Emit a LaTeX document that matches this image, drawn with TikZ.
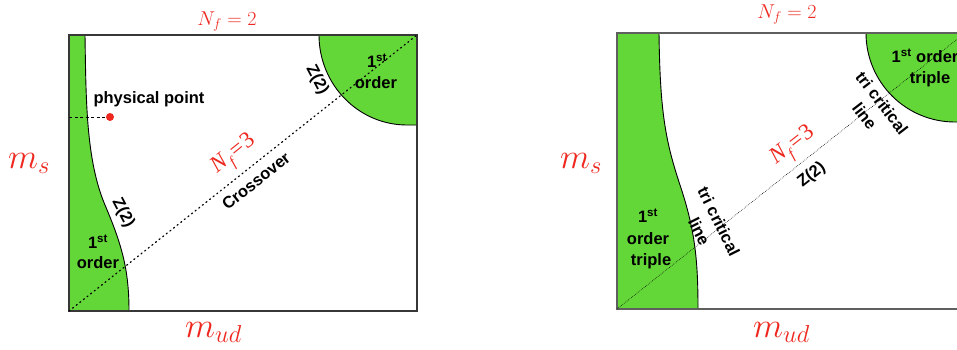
\documentclass[tikz,border=0pt]{standalone}
\usepackage{fix-cm}
\usepackage{fontspec}
\setmainfont{Liberation Sans}
\newfontfamily\timesfont{Liberation Serif}
\definecolor{grn}{RGB}{99,214,56}
\definecolor{rd}{RGB}{238,40,30}
\definecolor{framec}{RGB}{55,55,55}
\tikzset{
  region/.style={fill=grn},
  boundary/.style={draw=black, line width=0.9pt},
  frame/.style={draw=framec, line width=1.3pt},
  dotline/.style={line width=1.2pt, dash pattern=on 1.2pt off 3.4pt, line cap=round},
  fineline/.style={line width=0.6pt, dash pattern=on 0.6pt off 1.2pt},
  lbl/.style={font=\bfseries\fontsize{16.5}{21}\selectfont, align=center, inner sep=0pt},
  bigmath/.style={text=rd, font=\fontsize{35}{40}\selectfont, inner sep=0pt},
  nfmath/.style={text=rd, font=\fontsize{20}{24}\selectfont, inner sep=0pt},
  nfthree/.style={text=rd, font=\timesfont\fontsize{23}{26}\selectfont, inner sep=0pt},
  ppdot/.style={circle, fill=rd, minimum size=8pt, inner sep=0pt},
}
\newcommand{\nfthreetext}{\textit{N}\raisebox{-0.25em}{\fontsize{15}{15}\selectfont\textit{f}}\kern1.5pt=\kern1.5pt3}
\begin{document}
\begin{tikzpicture}[x=1pt,y=-1pt]
\useasboundingbox (0,0) rectangle (957,349);
\clip (0,0) rectangle (957,349);
\fill[white] (0,0) rectangle (957,349);

% ---------------- left panel ----------------
\fill[region] (69,35) -- (85,35) .. controls (86,100) and (86,160) .. (105,205)
  .. controls (122,245) and (129,270) .. (129,311) -- (69,311) -- cycle;
\draw[boundary] (85,35) .. controls (86,100) and (86,160) .. (105,205)
  .. controls (122,245) and (129,270) .. (129,311);
\fill[region] (319,35) .. controls (319,84.7) and (358.4,125) .. (407,125) -- (417,125) -- (417,35) -- cycle;
\draw[boundary] (319,35) .. controls (319,84.7) and (358.4,125) .. (407,125) -- (417,125);
\draw[frame] (69,35) rectangle (417,311);

\coordinate (Lbl) at (69,311);
\coordinate (Ltr) at (417,35);
\draw[dotline] (Lbl) -- (Ltr);

\coordinate (Lpp) at (69,117);
\node[ppdot] (pp) at (110,117) {};
\draw[dashed, line width=0.9pt, dash pattern=on 3pt off 2.5pt] (Lpp) -- (pp);

\node[nfmath, anchor=base] (Lnf2) at (227,25) {$N_f=2$};
\node[bigmath, anchor=base west] (Lms) at (8,168) {$m_s$};
\node[bigmath, anchor=base west] (Lmud) at (185,337) {$m_{ud}$};

\node[lbl] (Lphys) at (149,99) {physical point};
\node[lbl, anchor=base] (Lup1) at (377,67) {1\textsuperscript{st}};
\node[lbl, anchor=base] (Lup2) at (376,88) {order};
\node[lbl, anchor=base] (Llo1) at (98,248) {1\textsuperscript{st}};
\node[lbl, anchor=base] (Llo2) at (98,268) {order};
\node[lbl, rotate=-62] (Lz2a) at (317,80) {Z(2)};
\node[lbl, rotate=-62] (Lz2b) at (123,213) {Z(2)};
\node[nfthree, rotate=39] (Lnf3) at (235,155) {\nfthreetext};
\node[lbl, rotate=38.4] (Lcross) at (256,181) {Crossover};

% ---------------- right panel ----------------
\fill[region] (617,33) -- (659,33) .. controls (660,110) and (665,140) .. (680,185)
  .. controls (695,230) and (698,260) .. (698,309) -- (617,309) -- cycle;
\draw[boundary] (659,33) .. controls (660,110) and (665,140) .. (680,185)
  .. controls (695,230) and (698,260) .. (698,309);
\fill[region] (866,33) .. controls (866,82.2) and (905.8,122) .. (955,122) -- (965,122) -- (965,33) -- cycle;
\draw[boundary] (866,33) .. controls (866,82.2) and (905.8,122) .. (955,122) -- (965,122);
\draw[frame, draw=framec!80] (617,33) rectangle (965,309);

\coordinate (Rbl) at (617,309);
\coordinate (Rtr) at (965,33);
\draw[fineline] (Rbl) -- (Rtr);

\node[nfmath, anchor=base] (Rnf2) at (787,18) {$N_f=2$};
\node[bigmath, anchor=base west] (Rms) at (560,168) {$m_s$};
\node[bigmath, anchor=base west] (Rmud) at (753,337) {$m_{ud}$};

\node[lbl, anchor=base] (Rlo1) at (648,222) {1\textsuperscript{st}};
\node[lbl, anchor=base] (Rlo2) at (648,244) {order};
\node[lbl, anchor=base] (Rlo3) at (651,265) {triple};
\node[lbl, anchor=base] (Rup1) at (925,62) {1\textsuperscript{st} order};
\node[lbl, anchor=base] (Rup2) at (930,83) {triple};
\node[lbl, rotate=-63.5, font=\bfseries\fontsize{16.5}{22}\selectfont] (Rtc1) at (709,226.5) {tri critical\\line};
\node[lbl, rotate=-52.4, font=\bfseries\fontsize{16.5}{22}\selectfont] (Rtc2) at (873.3,109.6) {tri critical\\line};
\node[nfthree, rotate=38] (Rnf3) at (794,147) {\nfthreetext};
\node[lbl, rotate=38.4] (Rz2) at (811.7,175) {Z(2)};
\end{tikzpicture}
\end{document}
